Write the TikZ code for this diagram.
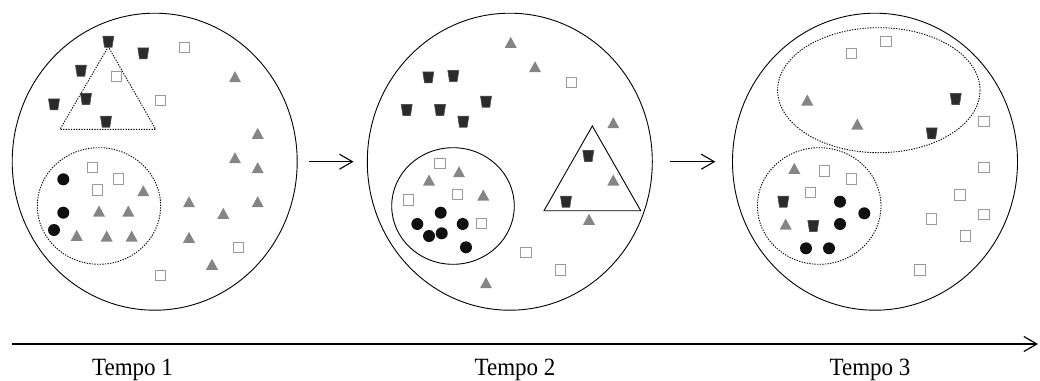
\documentclass[tikz,border=0pt]{standalone}
\usepackage{fontspec}
\setmainfont{Liberation Serif}
\usetikzlibrary{shapes.geometric,arrows.meta}
\definecolor{trigray}{HTML}{858585}
\definecolor{cupfill}{HTML}{2B2B2B}
\definecolor{cupedge}{HTML}{505050}
\definecolor{dotfill}{HTML}{101010}
\definecolor{sqedge}{HTML}{9A9A9A}
\tikzset{
  stage/.style={draw, ellipse, line width=0.9pt, minimum width=285pt,
    minimum height=297pt, inner sep=0pt},
  dots/.style={line width=0.9pt, dash pattern=on 1.3pt off 1.3pt},
  group/.style={draw, ellipse, dots, inner sep=0pt},
  flow/.style={line width=1.1pt, -{Straight Barb[length=13pt,width=15pt,line width=1.1pt]}},
  stamp/.style={font=\fontsize{23}{26}\selectfont, anchor=base},
  sqbox/.pic={\filldraw[fill=white, draw=sqedge, line width=0.9pt] (-5.2,-5.2) rectangle (5.2,5.2);},
  tribox/.pic={\fill[trigray] (-6,5.5) -- (6,5.5) -- (0,-5.5) -- cycle;},
  cupbox/.pic={\filldraw[fill=cupfill, draw=cupedge, line width=0.6pt]
    (-5.5,-5.5) -- (5.5,-5.5) -- (3.8,5.5) -- (-3.8,5.5) -- cycle;},
  dotbox/.pic={\fill[dotfill] (0,0) circle (6);}
}
\begin{document}
\begin{tikzpicture}[x=1pt,y=-1pt]
\useasboundingbox (0,0) rectangle (1040,380);

% the three stages
\node[stage] (t1) at (154.7,161.7) {};
\node[stage] (t2) at (509.8,161.7) {};
\node[stage] (t3) at (875.0,161.7) {};
\draw[flow, shorten <=11.6pt, shorten >=13.3pt] (t1.east) -- (t2.west);
\draw[flow, shorten <=17.7pt, shorten >=16.7pt] (t2.east) -- (t3.west);

% ---------- stage 1 ----------
\node[group, minimum width=123.4pt, minimum height=116.6pt] (g1) at (99,206) {};
\coordinate (k1a) at (108.3,46.7);
\coordinate (k1b) at (60,129.3);
\coordinate (k1c) at (155.7,129.3);
\draw[dots] (k1a) -- (k1b) -- (k1c) -- cycle;
\foreach \x/\y [count=\i] in {184.3/47.7, 116.7/76.7, 160.7/100.7, 92.7/167.3,
    118.3/179, 97.3/190, 238.3/247.3, 160.7/275.7}
  \pic (sqA\i) at (\x,\y) {sqbox};
\foreach \x/\y [count=\i] in {235/76.7, 257.7/133.3, 235/157.7, 257.7/167.7,
    143.3/190.7, 189/201.7, 257.7/201.7, 99/211, 128.3/211, 223.3/213.3,
    76.7/235.3, 106.7/236, 131.7/236, 189/237.3, 212/264.3}
  \pic (trA\i) at (\x,\y) {tribox};
\foreach \x/\y [count=\i] in {108.3/41.7, 143.3/53.3, 81/70.7, 86/99, 54/104.3, 106/121.7}
  \pic (cuA\i) at (\x,\y) {cupbox};
\foreach \x/\y [count=\i] in {63.3/179.3, 63.3/212.7, 54/230}
  \pic (dtA\i) at (\x,\y) {dotbox};

% ---------- stage 2 ----------
\node[draw, ellipse, line width=0.9pt, inner sep=0pt, minimum width=122.6pt,
  minimum height=116.6pt] (g2) at (453,206) {};
\coordinate (k2a) at (592.3,126);
\coordinate (k2b) at (544,210.7);
\coordinate (k2c) at (640.7,210.7);
\draw[line width=0.9pt] (k2a) -- (k2b) -- (k2c) -- cycle;
\foreach \x/\y [count=\i] in {571.7/82.3, 440/163.3, 457.3/194.3, 408.3/200,
    481.7/223.3, 526/252.7, 560.7/270}
  \pic (sqB\i) at (\x,\y) {sqbox};
\foreach \x/\y [count=\i] in {510.7/42.3, 535/66.7, 613.3/122.7, 459/171.7, 429/180,
    613.3/180, 483.3/195, 589/219.3, 486/282.7}
  \pic (trB\i) at (\x,\y) {tribox};
\foreach \x/\y [count=\i] in {428.3/77.3, 453.3/76, 406.7/110, 440/110, 486/101.7,
    463.3/121.7, 588.3/156, 566/201.7}
  \pic (cuB\i) at (\x,\y) {cupbox};
\foreach \x/\y [count=\i] in {440.7/212.7, 417.3/224, 462.7/224, 429/236,
    441.7/233.3, 466/247.3}
  \pic (dtB\i) at (\x,\y) {dotbox};

% ---------- stage 3 ----------
\node[group, minimum width=202.4pt, minimum height=125pt] (g3a) at (878.8,90.2) {};
\node[group, minimum width=123.6pt, minimum height=116.6pt] (g3b) at (819.2,206) {};
\foreach \x/\y [count=\i] in {886/41.7, 851.7/53.3, 984/121.7, 984/167.3, 824.3/171,
    851.7/179, 810.7/192.3, 960/195, 984/214.3, 931.7/219, 965.7/236, 920/270}
  \pic (sqC\i) at (\x,\y) {sqbox};
\foreach \x/\y [count=\i] in {807.3/100, 857.3/124, 794.3/168.3, 785.7/224}
  \pic (trC\i) at (\x,\y) {tribox};
\foreach \x/\y [count=\i] in {955.7/99, 931.7/133.3, 783.3/201.7, 813.3/226}
  \pic (cuC\i) at (\x,\y) {cupbox};
\foreach \x/\y [count=\i] in {840/201.7, 864.3/213.3, 840/224, 806/248.3, 829/248.3}
  \pic (dtC\i) at (\x,\y) {dotbox};

% time axis
\coordinate (axs) at (12,344);
\coordinate (axe) at (1038,344);
\draw[line width=1.2pt, -{Straight Barb[length=13pt,width=15pt,line width=1.2pt]}] (axs) -- (axe);
\node[stamp] (lb1) at (132.5,375) {\scalebox{1}[1.08]{Tempo 1}};
\node[stamp] (lb2) at (515,375) {\scalebox{1}[1.08]{Tempo 2}};
\node[stamp] (lb3) at (870,375) {\scalebox{1}[1.08]{Tempo 3}};
\end{tikzpicture}
\end{document}
